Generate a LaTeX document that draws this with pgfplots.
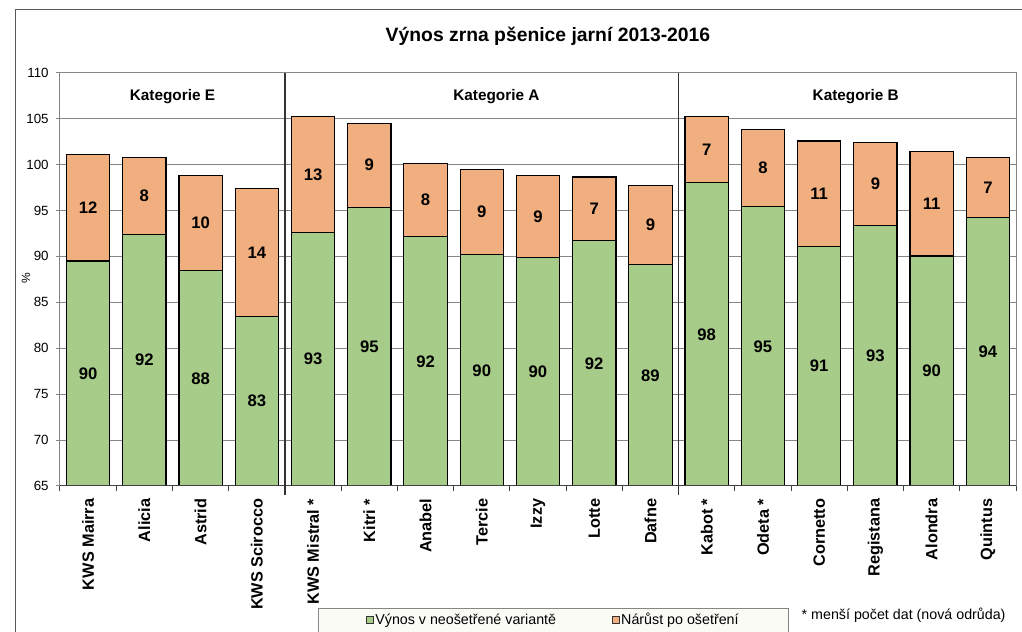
\documentclass[border=0pt]{standalone}
\usepackage{pgfplots}
\usepackage{pgfplotstable}
\pgfplotsset{compat=1.18}
\usepackage{fontspec}
\setmainfont{Liberation Sans}

\definecolor{cgreen}{RGB}{167,203,136}
\definecolor{corange}{RGB}{241,174,126}
\definecolor{cgrid}{RGB}{134,134,134}
\definecolor{clegbg}{RGB}{251,251,245}

% g = yield without treatment, o = increase after treatment
\pgfplotstableread{
x g o gl ol
0 89.5 11.6 90 12
1 92.4 8.35 92 8
2 88.45 10.35 88 10
3 83.45 13.95 83 14
4 92.6 12.6 93 13
5 95.35 9.15 95 9
6 92.15 7.95 92 8
7 90.2 9.3 90 9
8 89.9 8.9 90 9
9 91.7 6.95 92 7
10 89.1 8.65 89 9
11 98.0 7.2 98 7
12 95.4 8.45 95 8
13 91.1 11.45 91 11
14 93.4 9.0 93 9
15 90.05 11.4 90 11
16 94.2 6.6 94 7
}\datatable

\begin{document}
\begin{tikzpicture}
\useasboundingbox (0,0) rectangle (766.5pt,474pt);
\clip (0,0) rectangle (766.5pt,474pt);
\draw[black!65, line width=0.75pt] (11.25pt,-2pt) -- (11.25pt,466.5pt) -- (770pt,466.5pt);
\node[font=\bfseries\fontsize{14.5}{17}\selectfont] at (411pt,446.5pt) {Výnos zrna pšenice jarní 2013-2016};
\begin{axis}[
  at={(45pt,109.5pt)}, anchor=south west,
  scale only axis, width=717pt, height=310pt,
  xmin=-0.5, xmax=16.5, ymin=65, ymax=110,
  clip mode=individual,
  xtick={0,...,16},
  xticklabels={KWS Mairra, Alicia, Astrid, KWS Scirocco, KWS Mistral *, Kitri *, Anabel, Tercie, Izzy, Lotte, Dafne, Kabot *, Odeta *, Cornetto, Registana, Alondra, Quintus},
  minor xtick={-0.5,0.5,...,16.5},
  ytick={65,70,...,110},
  tick align=outside, xtick pos=bottom, ytick pos=left,
  major x tick style={draw=none},
  minor x tick style={black!75, line width=0.75pt},
  y tick style={cgrid, line width=0.75pt},
  minor tick length=4pt, major tick length=3pt,
  ymajorgrids, grid style={cgrid, line width=0.75pt},
  axis line style={cgrid, line width=0.75pt},
  /pgf/number format/assume math mode=true,
  yticklabel style={font=\fontsize{10}{12}\selectfont, xshift=-2pt},
  xticklabel shift=3pt,
  xticklabel style={rotate=90, anchor=east, font=\bfseries\fontsize{12.2}{14}\selectfont},
  ylabel={\%},
  ylabel style={at={(rel axis cs:-0.0356,0.503)}, anchor=center, font=\fontsize{9}{11}\selectfont},
  legend columns=2,
  legend style={at={(rel axis cs:0.2699,-0.294)}, anchor=north west, draw=cgrid, fill=clegbg,
    font=\fontsize{10.7}{12}\selectfont, inner xsep=36pt, inner ysep=2pt,
    nodes={inner xsep=1pt},
    /tikz/every even column/.append style={column sep=41pt}},
  legend image code/.code={\draw[#1, line width=0.6pt] (0pt,-2.6pt) rectangle (5.2pt,2.6pt);},
]
% orange: total (untreated + increase)
\addplot[ybar, bar width=32.5pt, bar shift=0pt, fill=corange, draw=black, line width=0.9pt, forget plot]
  table[x=x, y expr=\thisrow{g}+\thisrow{o}] {\datatable};
% green: untreated yield
\addplot[ybar, bar width=32.5pt, bar shift=0pt, fill=cgreen, draw=black, line width=0.9pt, forget plot]
  table[x=x, y=g] {\datatable};
% labels
\addplot[draw=none, mark=none, forget plot, point meta=explicit symbolic,
  nodes near coords, nodes near coords style={anchor=center, font=\bfseries\fontsize{12.5}{14}\selectfont, text=black}]
  table[x=x, y expr=(\thisrow{g}+65)/2, meta=gl] {\datatable};
\addplot[draw=none, mark=none, forget plot, point meta=explicit symbolic,
  nodes near coords, nodes near coords style={anchor=center, font=\bfseries\fontsize{12.5}{14}\selectfont, text=black}]
  table[x=x, y expr=\thisrow{g}+\thisrow{o}/2, meta=ol] {\datatable};
\addlegendimage{fill=cgreen, draw=black!80}
\addlegendentry{Výnos v neošetřené variantě}
\addlegendimage{fill=corange, draw=black!80}
\addlegendentry{Nárůst po ošetření}
\draw[black!75, line width=0.75pt] (rel axis cs:0,0) -- (rel axis cs:1,0);
\draw[black!80, line width=1pt] (axis cs:3.5,110) -- ([yshift=-7pt]axis cs:3.5,65);
\draw[black!80, line width=1pt] (axis cs:10.5,110) -- ([yshift=-7pt]axis cs:10.5,65);
\node[font=\bfseries\fontsize{11.5}{13}\selectfont] at (axis cs:1.5,107.35) {Kategorie E};
\node[font=\bfseries\fontsize{11.5}{13}\selectfont] at (axis cs:7.26,107.35) {Kategorie A};
\node[font=\bfseries\fontsize{11.5}{13}\selectfont] at (axis cs:13.65,107.35) {Kategorie B};
\end{axis}
\node[anchor=west, font=\fontsize{10.7}{12}\selectfont] at (597.75pt,12.75pt) {* menší počet dat (nová odrůda)};
\end{tikzpicture}
\end{document}
